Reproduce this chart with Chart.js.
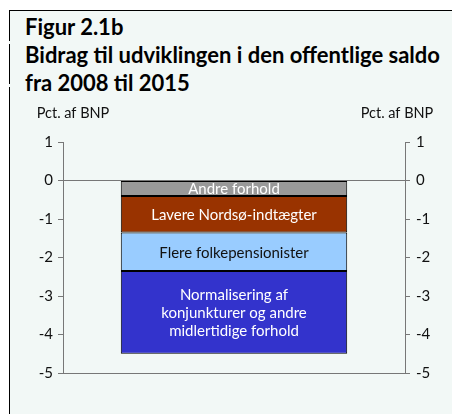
<!DOCTYPE html>
<html lang="da">
<head>
<meta charset="UTF-8" />
<title>Figur 2.1b</title>
<script src="https://cdn.jsdelivr.net/npm/chart.js"></script>
<style>
  body { margin: 0; background: #fff; font-family: Lato, sans-serif; }
  .frame {
    position: absolute; left: 9px; top: 10px; width: 443px; height: 404px;
    background: #f2f8f6; border-top: 1px solid #000; border-left: 1px solid #000;
    box-sizing: border-box;
  }
  .gap { position: absolute; left: 9px; width: 1px; height: 3px; background: #f2f8f6; }
  .title {
    position: absolute; left: 25px; top: 13px; font-weight: 700; font-size: 22px;
    line-height: 28px; color: #000; white-space: nowrap;
  }
  canvas { position: absolute; left: 0; top: 0; }
</style>
</head>
<body>
  <div class="frame"></div>
  <div class="gap" style="top:41px"></div>
  <div class="gap" style="top:84px"></div>
  <div class="title">Figur 2.1b<br>Bidrag til udviklingen i den offentlige saldo<br>fra 2008 til 2015</div>
  <canvas id="chart" width="454" height="414"></canvas>
<script>
  const categories = ['2008-2015'];
  const segLabels = [
    ['Andre forhold'],
    ['Lavere Nordsø-indtægter'],
    ['Flere folkepensionister'],
    ['Normalisering af', 'konjunkturer og andre', 'midlertidige forhold']
  ];
  const segValues = [-0.4, -0.95, -1.0, -2.15];
  const segColors = ['#999999', '#993300', '#99ccff', '#3333cc'];
  const textColors = ['#ffffff', '#ffffff', '#111111', '#ffffff'];
  const axisTitle = 'Pct. af BNP';
  const yMin = -5, yMax = 1;

  const FONT = 'Lato, sans-serif';

  // text inside each stacked piece
  const barText = {
    id: 'barText',
    afterDatasetsDraw(chart) {
      const ctx = chart.ctx;
      ctx.save();
      ctx.font = '15px ' + FONT;
      ctx.textAlign = 'center';
      ctx.textBaseline = 'middle';
      chart.data.datasets.forEach((ds, i) => {
        const el = chart.getDatasetMeta(i).data[0];
        const lines = segLabels[i];
        const cy = (el.y + el.base) / 2;
        const lh = 18;
        ctx.fillStyle = textColors[i];
        lines.forEach((t, k) => {
          ctx.fillText(t, el.x, cy + 1 + (k - (lines.length - 1) / 2) * lh);
        });
      });
      ctx.restore();
    }
  };

  // horizontal unit labels above both axes
  const unitText = {
    id: 'unitText',
    afterDraw(chart) {
      const ctx = chart.ctx;
      ctx.save();
      ctx.font = '14.5px ' + FONT;
      ctx.fillStyle = '#111';
      ctx.textAlign = 'center';
      ctx.textBaseline = 'middle';
      ctx.fillText(axisTitle, chart.scales.y.right + 10, 113);
      ctx.fillText(axisTitle, chart.scales.y1.left - 8, 113);
      ctx.restore();
    }
  };

  const datasets = segValues.map((v, i) => ({
    label: segLabels[i].join(' '),
    data: [v],
    backgroundColor: segColors[i],
    borderColor: '#000',
    borderWidth: 1,
    borderSkipped: false,
    barPercentage: 1,
    categoryPercentage: 0.662
  }));

  const tickOpts = { stepSize: 1, color: '#111', font: { family: FONT, size: 15 } };

  new Chart(document.getElementById('chart'), {
    type: 'bar',
    data: { labels: categories, datasets: datasets },
    options: {
      responsive: false,
      animation: false,
      layout: { padding: { top: 142, left: 23, right: 9, bottom: 41 } },
      plugins: { legend: { display: false }, tooltip: { enabled: false } },
      scales: {
        x: { stacked: true, display: false },
        y: {
          stacked: true, position: 'left', min: yMin, max: yMax,
          ticks: Object.assign({ padding: 5 }, tickOpts),
          grid: {
            color: c => (c.tick && (c.tick.value === 0 || c.tick.value === yMin)) ? '#777' : 'transparent',
            tickColor: '#777', tickLength: 5, lineWidth: 1
          },
          border: { color: '#777' },
          afterFit: s => { s.width = 40; }
        },
        y1: {
          position: 'right', min: yMin, max: yMax,
          ticks: Object.assign({ padding: 6 }, tickOpts),
          grid: { drawOnChartArea: false, tickColor: '#777', tickLength: 5 },
          border: { color: '#777' },
          afterFit: s => { s.width = 40; }
        }
      }
    },
    plugins: [barText, unitText]
  });
</script>
</body>
</html>
